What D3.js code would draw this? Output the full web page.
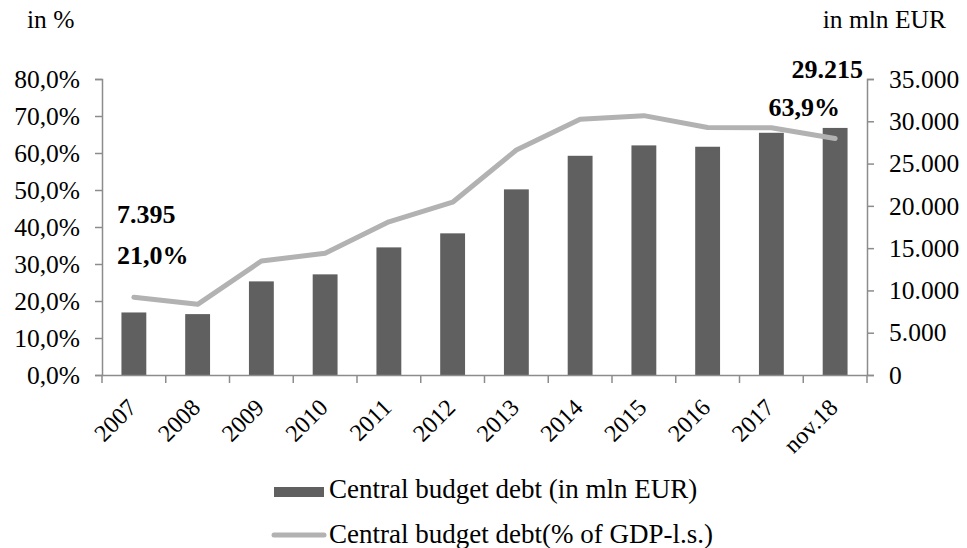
<!DOCTYPE html>
<html>
<head>
<meta charset="utf-8">
<script src="https://cdn.jsdelivr.net/npm/d3@7"></script>
<style>
html,body{margin:0;padding:0;background:#fff;}
svg{display:block;}
</style>
</head>
<body>
<svg id="chart" width="967" height="548" font-family="Liberation Serif"></svg>
<script>
const categories = ["2007","2008","2009","2010","2011","2012","2013","2014","2015","2016","2017","nov.18"];
const debtMlnEur = [7395, 7200, 11070, 11900, 15090, 16750, 21950, 25920, 27150, 26990, 28640, 29215];
const debtPctGdp = [21.0, 19.1, 30.8, 32.9, 41.4, 46.7, 60.8, 69.1, 70.1, 66.9, 66.8, 63.9];
const leftTicks = [0,10,20,30,40,50,60,70,80];
const rightTicks = [0,5000,10000,15000,20000,25000,30000,35000];

const FONT = "Liberation Serif";
const svg = d3.select("#chart");
const L = 102, R = 867, B = 375, T = 79;
const axisColor = "#8c8c8c";

const x = d3.scaleBand().domain(categories).range([L, R]).paddingInner(0.61).paddingOuter(0.305);
const xb = d3.scaleBand().domain(categories).range([L, R]);
const yL = d3.scaleLinear().domain([0, 80]).range([B, T]);
const yR = d3.scaleLinear().domain([0, 35000]).range([B, T]);

const fmtPct = d => d3.format(".1f")(d).replace(".", ",") + "%";
const fmtThou = d => d3.format(",")(d).replace(/,/g, ".");

// bars
svg.append("g").selectAll("rect").data(categories).join("rect")
  .attr("x", d => x(d))
  .attr("width", x.bandwidth())
  .attr("y", (d,i) => yR(debtMlnEur[i]))
  .attr("height", (d,i) => B - yR(debtMlnEur[i]))
  .attr("fill", "#606060");

// line
const line = d3.line().x((d,i) => xb(categories[i]) + xb.bandwidth()/2).y(d => yL(d));
svg.append("path").datum(debtPctGdp)
  .attr("d", line)
  .attr("fill", "none")
  .attr("stroke", "#b2b2b2")
  .attr("stroke-width", 5)
  .attr("stroke-linejoin", "round")
  .attr("stroke-linecap", "round");

// left axis
const gL = svg.append("g").attr("transform", `translate(${L},0)`)
  .call(d3.axisLeft(yL).tickValues(leftTicks).tickFormat(fmtPct).tickSize(7).tickPadding(15));
// right axis
const gR = svg.append("g").attr("transform", `translate(${R},0)`)
  .call(d3.axisRight(yR).tickValues(rightTicks).tickFormat(fmtThou).tickSize(7).tickPadding(15));
// x axis
const gX = svg.append("g").attr("transform", `translate(0,${B})`)
  .call(d3.axisBottom(xb).tickSize(0).tickFormat(""));
gX.selectAll(".tick").remove();
const bounds = categories.map(c => xb(c)).concat([R]);
gX.selectAll("line.bt").data(bounds).join("line").attr("class","bt")
  .attr("x1", d => d).attr("x2", d => d).attr("y1", 0).attr("y2", 8);

[gL, gR, gX].forEach(g => {
  g.attr("font-family", FONT).attr("font-size", 25.5);
  g.selectAll("path.domain").attr("stroke", axisColor).attr("stroke-width", 1.5);
  g.selectAll("line").attr("stroke", axisColor).attr("stroke-width", 1.5);
  g.selectAll("text").attr("font-size", 25.5).attr("fill", "#000").attr("font-family", FONT);
});

// x labels
svg.append("g").selectAll("text").data(categories).join("text")
  .attr("transform", d => `translate(${xb(d) + xb.bandwidth()/2 + 4},${B + 34}) rotate(-45)`)
  .attr("text-anchor", "end")
  .attr("font-family", FONT)
  .attr("font-size", 24)
  .text(d => d);

// unit labels
svg.append("text").attr("x", 27).attr("y", 28).attr("font-family", FONT).attr("font-size", 25.5).text("in %");
svg.append("text").attr("x", 946).attr("y", 28).attr("font-family", FONT).attr("font-size", 25.5).attr("text-anchor", "end").text("in mln EUR");

// data labels
const n = categories.length - 1;
const lab = (txt, xx, yy, anchor) => svg.append("text").attr("x", xx).attr("y", yy)
  .attr("font-family", FONT).attr("font-size", 26).attr("font-weight", "bold").attr("text-anchor", anchor).text(txt);
lab(fmtThou(debtMlnEur[0]), 117, 223, "start");
lab(fmtPct(debtPctGdp[0]), 117, 264, "start");
lab(fmtThou(debtMlnEur[n]), 863, 78, "end");
lab(fmtPct(debtPctGdp[n]), 840, 116, "end");

// legend
const lg = svg.append("g").attr("font-family", FONT);
lg.append("rect").attr("x", 274).attr("y", 487).attr("width", 50).attr("height", 10).attr("fill", "#606060");
lg.append("text").attr("x", 329).attr("y", 498).attr("font-size", 27).text("Central budget debt (in mln EUR)");
lg.append("line").attr("x1", 274).attr("x2", 324).attr("y1", 535).attr("y2", 535)
  .attr("stroke", "#b2b2b2").attr("stroke-width", 5).attr("stroke-linecap", "round");
lg.append("text").attr("x", 329).attr("y", 543).attr("font-size", 27).text("Central budget debt(% of GDP-l.s.)");
</script>
</body>
</html>
